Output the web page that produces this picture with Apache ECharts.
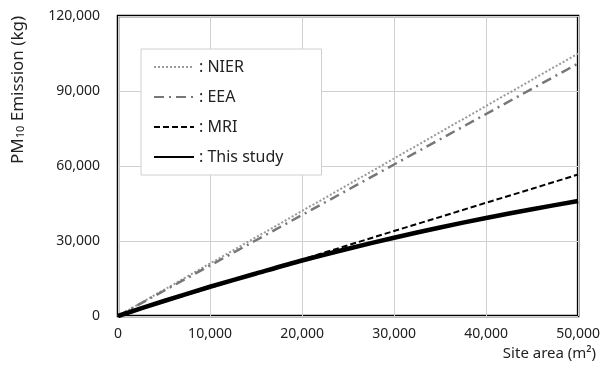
<!DOCTYPE html>
<html>
<head>
<meta charset="utf-8">
<script src="https://cdn.jsdelivr.net/npm/echarts@6/dist/echarts.min.js"></script>
<style>
  html, body { margin: 0; padding: 0; background: #fff; }
  #graph { width: 603px; height: 376px; }
</style>
</head>
<body>
<div id="graph"></div>
<script>
// site area (m2)
var siteArea = [0, 5000, 10000, 15000, 20000, 25000, 30000, 35000, 40000, 45000, 50000];
// PM10 emission (kg)
var nier = [0, 10500, 21000, 31500, 42000, 52500, 63000, 73500, 84000, 94500, 105000];
var eea = [0, 10100, 20200, 30300, 40400, 50500, 60600, 70700, 80800, 90900, 101000];
var mri = [0, 5700, 11300, 17000, 22600, 28300, 34000, 39600, 45300, 50900, 56600];
var thisStudy = [0, 6000, 11700, 17000, 22200, 26900, 31300, 35400, 39200, 42700, 46000];

var seriesNames = ['NIER', 'EEA', 'MRI', 'This study'];

function pairs(ys) {
  return siteArea.map(function (x, i) { return [x, ys[i]]; });
}

var font = 'Noto Sans';
var myChart = echarts.init(document.getElementById('graph'));

myChart.setOption({
  animation: false,
  textStyle: { fontFamily: font },
  grid: {
    left: 118, right: 23, top: 16, bottom: 60,
    show: true, borderColor: '#000', borderWidth: 2.5
  },
  legend: {
    left: 141, top: 49,
    orient: 'vertical',
    itemWidth: 40, itemHeight: 10, itemGap: 14,
    padding: [10, 38, 10, 12],
    backgroundColor: '#fff',
    borderColor: '#d0d0d0', borderWidth: 1,
    data: seriesNames,
    itemStyle: { opacity: 0 },
    formatter: function (n) { return ': ' + n; },
    textStyle: { fontFamily: font, fontSize: 16, color: '#222' }
  },
  xAxis: {
    type: 'value', min: 0, max: 50000, interval: 10000,
    name: 'Site area (m²)',
    nameLocation: 'end', nameGap: 18,
    nameTextStyle: { fontSize: 15, color: '#222', align: 'right', verticalAlign: 'top', padding: [30, 0, 0, 0] },
    axisLine: { show: false },
    axisTick: { show: false },
    axisLabel: { fontSize: 14, color: '#222', margin: 11,
      formatter: function (v) { return v.toLocaleString('en-US'); } },
    splitLine: { lineStyle: { color: '#d0d0d0', width: 1 } }
  },
  yAxis: {
    type: 'value', min: 0, max: 120000, interval: 30000,
    axisLine: { show: false },
    axisTick: { show: false },
    axisLabel: { fontSize: 14, color: '#222', margin: 18,
      formatter: function (v) { return v.toLocaleString('en-US'); } },
    splitLine: { lineStyle: { color: '#d0d0d0', width: 1 } }
  },
  graphic: [{
    type: 'text', x: 18, y: 90, rotation: Math.PI / 2,
    style: {
      text: '{a|PM}{s|10}{a| Emission (kg)}',
      align: 'center', verticalAlign: 'middle',
      rich: {
        a: { fontFamily: font, fontSize: 17, fill: '#222' },
        s: { fontFamily: font, fontSize: 11, fill: '#222', verticalAlign: 'bottom', padding: [5, 0, 0, 0] }
      }
    }
  }],
  series: [
    { name: 'NIER', type: 'line', data: pairs(nier), symbol: 'none',
      lineStyle: { color: '#999', width: 2, type: [2, 2] }, itemStyle: { color: '#999' } },
    { name: 'EEA', type: 'line', data: pairs(eea), symbol: 'none',
      lineStyle: { color: '#777', width: 2.5, type: [10, 5, 2, 5] }, itemStyle: { color: '#777' } },
    { name: 'MRI', type: 'line', data: pairs(mri), symbol: 'none',
      lineStyle: { color: '#000', width: 2, type: [6, 3] }, itemStyle: { color: '#000' } },
    { name: 'This study', type: 'line', data: pairs(thisStudy), symbol: 'none', smooth: 0.3,
      lineStyle: { color: '#000', width: 4.5 }, itemStyle: { color: '#000' } }
  ]
});
</script>
</body>
</html>
